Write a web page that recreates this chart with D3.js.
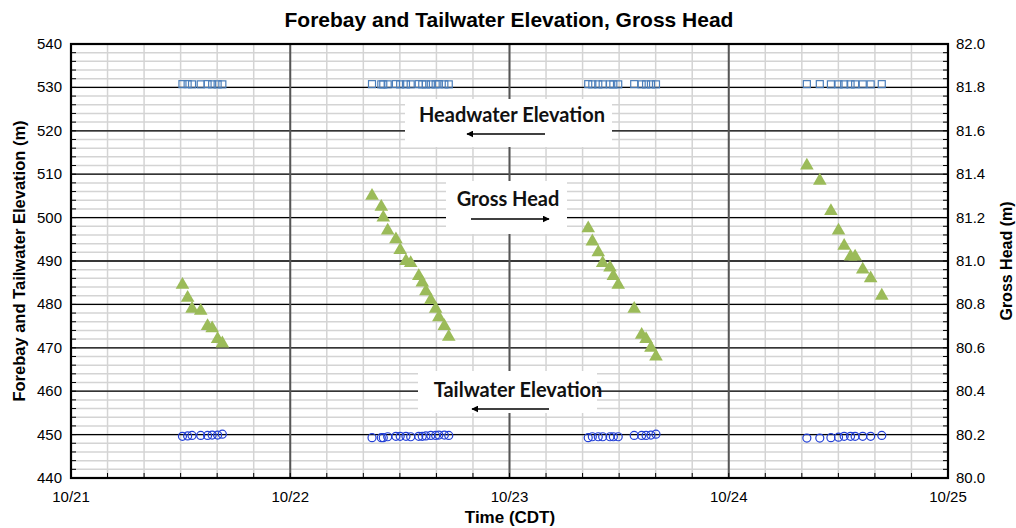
<!DOCTYPE html>
<html>
<head>
<meta charset="utf-8">
<script src="https://cdn.jsdelivr.net/npm/d3@7"></script>
<style>
  body { margin: 0; background: #fff; }
  svg { display: block; }
</style>
</head>
<body>
<div id="chart"></div>
<script>
// sample times (shared by all three series)
const times = [
  "10/21 12:12", "10/21 12:46", "10/21 13:15", "10/21 14:12", "10/21 14:57", "10/21 15:27", "10/21 16:03", "10/21 16:34",
  "10/22 08:57", "10/22 09:58", "10/22 10:11", "10/22 10:40", "10/22 11:34", "10/22 12:02", "10/22 12:40", "10/22 13:11",
  "10/22 14:04", "10/22 14:27", "10/22 14:51", "10/22 15:23", "10/22 15:55", "10/22 16:16", "10/22 16:52", "10/22 17:21",
  "10/23 08:37", "10/23 09:04", "10/23 09:43", "10/23 10:12", "10/23 11:00", "10/23 11:22", "10/23 11:54", "10/23 13:39",
  "10/23 14:28", "10/23 14:57", "10/23 15:29", "10/23 16:02",
  "10/24 08:33", "10/24 09:58", "10/24 11:11", "10/24 12:01", "10/24 12:38", "10/24 13:20", "10/24 13:50", "10/24 14:40",
  "10/24 15:32", "10/24 16:45"
];
const headwater = [
  530.75, 530.75, 530.7, 530.7, 530.75, 530.7, 530.7, 530.7,
  530.75, 530.7, 530.7, 530.7, 530.75, 530.7, 530.7, 530.7,
  530.75, 530.7, 530.7, 530.7, 530.7, 530.75, 530.7, 530.7,
  530.75, 530.7, 530.7, 530.7, 530.7, 530.7, 530.7, 530.75,
  530.7, 530.7, 530.7, 530.7,
  530.75, 530.75, 530.7, 530.7, 530.7, 530.7, 530.7, 530.7,
  530.7, 530.75
];
const tailwater = [
  449.6, 449.7, 449.8, 449.8, 449.8, 449.9, 449.9, 450.1,
  449.3, 449.3, 449.3, 449.5, 449.6, 449.6, 449.6, 449.5,
  449.6, 449.6, 449.7, 449.8, 449.8, 449.9, 449.9, 449.8,
  449.3, 449.5, 449.5, 449.5, 449.5, 449.5, 449.5, 449.8,
  449.8, 449.8, 449.9, 450.1,
  449.2, 449.2, 449.3, 449.4, 449.6, 449.6, 449.6, 449.6,
  449.6, 449.8
];
const grossHead = [
  80.89, 80.83, 80.78, 80.77, 80.70, 80.69, 80.64, 80.62,
  81.30, 81.25, 81.20, 81.14, 81.10, 81.05, 81.00, 80.99,
  80.93, 80.90, 80.86, 80.82, 80.78, 80.74, 80.70, 80.65,
  81.15, 81.09, 81.04, 80.99, 80.97, 80.93, 80.89, 80.78,
  80.66, 80.64, 80.60, 80.56,
  81.44, 81.37, 81.23, 81.14, 81.07, 81.02, 81.02, 80.96,
  80.92, 80.84
];

const dayTicks = ["10/21 00:00", "10/22 00:00", "10/23 00:00", "10/24 00:00", "10/25 00:00"];
const leftTicks = [440, 450, 460, 470, 480, 490, 500, 510, 520, 530, 540];
const rightTicks = [80.0, 80.2, 80.4, 80.6, 80.8, 81.0, 81.2, 81.4, 81.6, 81.8, 82.0];

const W = 1016, H = 528;
const m = {top: 44, right: 68, bottom: 50, left: 71};
const parse = d3.timeParse("%m/%d %H:%M");
const fmt = d3.timeFormat("%m/%d");

const x = d3.scaleTime()
  .domain([parse(dayTicks[0]), parse(dayTicks[dayTicks.length - 1])])
  .range([m.left, W - m.right]);
const y = d3.scaleLinear().domain([440, 540]).range([H - m.bottom, m.top]);
const y2 = d3.scaleLinear().domain([80, 82]).range([H - m.bottom, m.top]);

const svg = d3.select("#chart").append("svg")
  .attr("width", W).attr("height", H)
  .style("font-family", "'Liberation Sans', Arial, sans-serif");

const x0 = m.left, x1 = W - m.right, yT = m.top, yB = H - m.bottom;

// minor gridlines
const minorX = d3.timeHour.every(4).range(x.domain()[0], x.domain()[1]);
svg.append("g").selectAll("line").data(minorX).join("line")
  .attr("x1", d => x(d)).attr("x2", d => x(d))
  .attr("y1", yT).attr("y2", yB)
  .attr("stroke", "#d4d4d4").attr("stroke-width", 1.5);
svg.append("g").selectAll("line").data(d3.range(440, 541, 2)).join("line")
  .attr("x1", x0).attr("x2", x1)
  .attr("y1", d => y(d)).attr("y2", d => y(d))
  .attr("stroke", "#d4d4d4").attr("stroke-width", 1.5);

// major gridlines
svg.append("g").selectAll("line").data(leftTicks).join("line")
  .attr("x1", x0).attr("x2", x1)
  .attr("y1", d => y(d)).attr("y2", d => y(d))
  .attr("stroke", "#000").attr("stroke-width", 1.3);
svg.append("g").selectAll("line").data(dayTicks.map(parse)).join("line")
  .attr("x1", d => x(d)).attr("x2", d => x(d))
  .attr("y1", yT).attr("y2", yB)
  .attr("stroke", "#555").attr("stroke-width", 2);

// annotation boxes (white, over the grid)
const notes = [
  {text: "Headwater Elevation", bx: 405, by: 99, bw: 207, bh: 48, tx: 512, ty: 122, ax1: 545, ax2: 467, ay: 134},
  {text: "Gross Head", bx: 446, by: 181, bw: 121, bh: 53, tx: 508, ty: 206, ax1: 471, ax2: 549, ay: 219},
  {text: "Tailwater Elevation", bx: 418, by: 371, bw: 179, bh: 42, tx: 518, ty: 397, ax1: 549, ax2: 472, ay: 409}
];
svg.append("defs").append("marker")
  .attr("id", "ah").attr("viewBox", "0 0 10 10")
  .attr("refX", 9).attr("refY", 5)
  .attr("markerWidth", 7).attr("markerHeight", 7)
  .attr("markerUnits", "userSpaceOnUse")
  .attr("orient", "auto")
  .append("path").attr("d", "M0,0L10,5L0,10z").attr("fill", "#000");

svg.append("g").selectAll("rect").data(notes).join("rect")
  .attr("x", d => d.bx).attr("y", d => d.by)
  .attr("width", d => d.bw).attr("height", d => d.bh)
  .attr("fill", "#fff");

// inside tick marks
const tk = svg.append("g").attr("stroke", "#000").attr("stroke-width", 1);
tk.selectAll(".tl").data(d3.range(440, 541, 2)).join("line").attr("class", "tl")
  .attr("x1", x0).attr("x2", x0 + 5).attr("y1", d => y(d)).attr("y2", d => y(d));
tk.selectAll(".tr").data(d3.range(440, 541, 2)).join("line").attr("class", "tr")
  .attr("x1", x1 - 5).attr("x2", x1).attr("y1", d => y(d)).attr("y2", d => y(d));
tk.selectAll(".tb").data(minorX).join("line").attr("class", "tb")
  .attr("x1", d => x(d)).attr("x2", d => x(d)).attr("y1", yB - 5).attr("y2", yB);

// plot frame
svg.append("rect")
  .attr("x", x0).attr("y", yT).attr("width", x1 - x0).attr("height", yB - yT)
  .attr("fill", "none").attr("stroke", "#000").attr("stroke-width", 2.2);

// data
const rows = times.map((t, i) => ({t: parse(t), hw: headwater[i], tw: tailwater[i], gh: grossHead[i]}));

svg.append("g").selectAll("rect").data(rows).join("rect")
  .attr("x", d => x(d.t) - 3.5).attr("y", d => y(d.hw) - 3.5)
  .attr("width", 7).attr("height", 7)
  .attr("fill", "none").attr("stroke", "#4a7ebb").attr("stroke-width", 1.2);

svg.append("g").selectAll("circle").data(rows).join("circle")
  .attr("cx", d => x(d.t)).attr("cy", d => y(d.tw)).attr("r", 4)
  .attr("fill", "none").attr("stroke", "#2340d8").attr("stroke-width", 1.2);

const tri = d3.symbol().type(d3.symbolTriangle).size(80);
svg.append("g").selectAll("path").data(rows).join("path")
  .attr("d", tri)
  .attr("transform", d => `translate(${x(d.t)},${y2(d.gh)})`)
  .attr("fill", "#9bbb59");

// annotation text + arrows
const ng = svg.append("g");
ng.selectAll("text").data(notes).join("text")
  .attr("x", d => d.tx).attr("y", d => d.ty)
  .attr("text-anchor", "middle")
  .style("font-family", "Lato, 'Open Sans', sans-serif")
  .style("font-weight", "bold").style("font-size", "20px")
  .attr("fill", "#111")
  .text(d => d.text);
ng.selectAll("line").data(notes).join("line")
  .attr("x1", d => d.ax1).attr("x2", d => d.ax2)
  .attr("y1", d => d.ay).attr("y2", d => d.ay)
  .attr("stroke", "#000").attr("stroke-width", 1.5)
  .attr("marker-end", "url(#ah)");

// tick labels
svg.append("g").selectAll("text").data(leftTicks).join("text")
  .attr("x", x0 - 9).attr("y", d => y(d) + 5)
  .attr("text-anchor", "end").style("font-size", "15px")
  .text(d => d);
svg.append("g").selectAll("text").data(rightTicks).join("text")
  .attr("x", x1 + 8).attr("y", d => y2(d) + 5)
  .style("font-size", "15px")
  .text(d => d.toFixed(1));
svg.append("g").selectAll("text").data(dayTicks.map(parse)).join("text")
  .attr("x", d => x(d)).attr("y", yB + 24)
  .attr("text-anchor", "middle").style("font-size", "15px")
  .text(d => fmt(d));

// titles
svg.append("text")
  .attr("x", 509).attr("y", 27)
  .attr("text-anchor", "middle")
  .style("font-size", "21px").style("font-weight", "bold")
  .text("Forebay and Tailwater Elevation, Gross Head");
svg.append("text")
  .attr("transform", `translate(25,${(yT + yB) / 2}) rotate(-90)`)
  .attr("text-anchor", "middle")
  .style("font-size", "16.5px").style("font-weight", "bold")
  .text("Forebay and Tailwater Elevation (m)");
svg.append("text")
  .attr("transform", `translate(1012,${(yT + yB) / 2}) rotate(-90)`)
  .attr("text-anchor", "middle")
  .style("font-size", "16px").style("font-weight", "bold")
  .text("Gross Head (m)");
svg.append("text")
  .attr("x", 510).attr("y", 523)
  .attr("text-anchor", "middle")
  .style("font-size", "17px").style("font-weight", "bold")
  .text("Time (CDT)");
</script>
</body>
</html>
